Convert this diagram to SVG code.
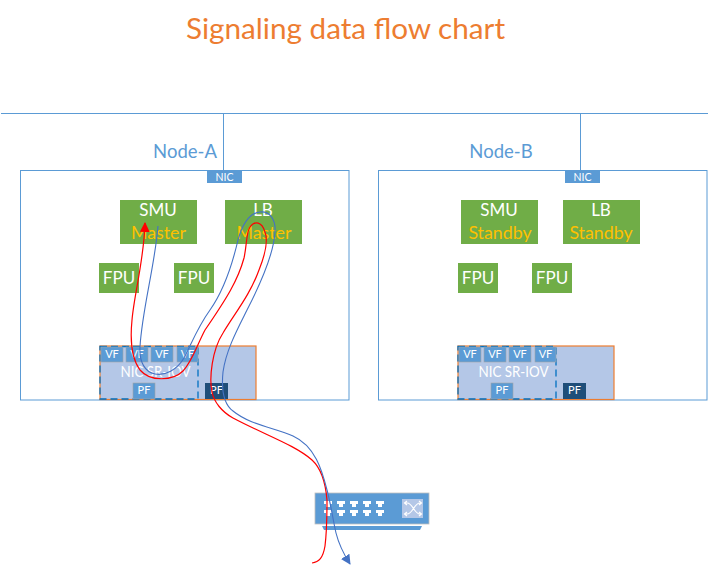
<svg xmlns="http://www.w3.org/2000/svg" width="713" height="565" viewBox="0 0 713 565">
<style>
text{font-family:"Lato","Open Sans","Liberation Sans",sans-serif;text-anchor:middle}
.bus{fill:none;stroke:#5B9BD5;stroke-width:1}
.node{fill:#fff;stroke:#5B9BD5;stroke-width:1}
.lab{fill:#5B9BD5;font-size:18.500px}
.nic{fill:#5B9BD5}
.nict{fill:#fff;font-size:10.500px}
.g{fill:#70AD47}
.w{fill:#fff;font-size:17px}
.y{fill:#FFC000;font-size:17.800px}
.sr{fill:#B4C7E7;stroke:#ED7D31;stroke-width:1.2}
.dash{fill:none;stroke:#0070C0;stroke-width:1.3;stroke-dasharray:7 4}
.vf{fill:#5B9BD5;stroke:#A5A5A5;stroke-width:.6}
.vft{fill:#fff;font-size:11px}
.srt{fill:#fff;font-size:15.500px}
.pfd{fill:#1F4E79}
.red{fill:none;stroke:#FF0000;stroke-width:1.2}
.blue{fill:none;stroke:#4472C4;stroke-width:1.1}
.port{fill:#fff}
</style>
<defs>
<marker id="ar" markerUnits="userSpaceOnUse" markerWidth="11" markerHeight="11" refX="9" refY="5" orient="auto"><path d="M0 0L10 5L0 10Z" fill="#FF0000"/></marker>
<marker id="ab" markerUnits="userSpaceOnUse" markerWidth="11" markerHeight="11" refX="9" refY="5" orient="auto"><path d="M0 0L10 5L0 10Z" fill="#4472C4"/></marker>
<g id="sriov">
<rect class="sr" x="100" y="346" width="156" height="53.500"/>
<rect class="dash" x="100" y="346.500" width="98" height="52.500"/>
<rect class="vf" x="101" y="347" width="22" height="15"/><text class="vft" x="112" y="358">VF</text>
<rect class="vf" x="126" y="347" width="22" height="15"/><text class="vft" x="137" y="358">VF</text>
<rect class="vf" x="151" y="347" width="22" height="15"/><text class="vft" x="162" y="358">VF</text>
<rect class="vf" x="177" y="347" width="21" height="15"/><text class="vft" x="187.500" y="358">VF</text>
<text class="srt" x="155.500" y="377" textLength="70" lengthAdjust="spacingAndGlyphs">NIC SR-IOV</text>
<rect class="vf" x="133" y="383" width="22" height="16"/><text class="vft" x="144" y="394">PF</text>
<rect class="pfd" x="205" y="383" width="23" height="16"/><text class="vft" x="216.500" y="394">PF</text>
</g>
</defs>
<text id="title" x="345.500" y="39" fill="#ED7D31" font-size="29.700">Signaling data flow chart</text>
<g id="connectors-bus">
<path class="bus" d="M1 113.500H708M223.500 113V170M580.500 113V170"/>
</g>
<g id="node-a">
<rect class="node" x="20.500" y="170.500" width="328.500" height="229.500"/>
<text class="lab" x="185" y="158">Node-A</text>
</g>
<g id="node-b">
<rect class="node" x="378.500" y="170.500" width="328.500" height="229.500"/>
<text class="lab" x="501" y="158">Node-B</text>
</g>
<g id="nic-a"><rect class="nic" x="207" y="171" width="35" height="12"/><text class="nict" x="224.500" y="180.500">NIC</text></g>
<g id="nic-b"><rect class="nic" x="565" y="171" width="35" height="12"/><text class="nict" x="582.500" y="180.500">NIC</text></g>
<g id="smu-a"><rect class="g" x="120" y="200" width="77" height="44"/><text class="w" x="158" y="216">SMU</text><text class="y" x="158.500" y="239">Master</text></g>
<g id="lb-a"><rect class="g" x="225" y="200" width="77" height="44"/><text class="w" x="263" y="216">LB</text><text class="y" x="264" y="239">Master</text></g>
<g id="fpu-a1"><rect class="g" x="99" y="263" width="40" height="30"/><text class="w" x="119" y="284">FPU</text></g>
<g id="fpu-a2"><rect class="g" x="174" y="263" width="40" height="30"/><text class="w" x="194" y="284">FPU</text></g>
<g id="smu-b"><rect class="g" x="461" y="200" width="77" height="44"/><text class="w" x="499" y="216">SMU</text><text class="y" x="500" y="239">Standby</text></g>
<g id="lb-b"><rect class="g" x="563" y="200" width="77" height="44"/><text class="w" x="601" y="216">LB</text><text class="y" x="601" y="239">Standby</text></g>
<g id="fpu-b1"><rect class="g" x="458" y="263" width="40" height="30"/><text class="w" x="478" y="284">FPU</text></g>
<g id="fpu-b2"><rect class="g" x="532" y="263" width="40" height="30"/><text class="w" x="552" y="284">FPU</text></g>
<g id="nic-sriov-a"><use href="#sriov"/></g>
<g id="nic-sriov-b"><use href="#sriov" x="358"/></g>
<g id="switch">
<rect x="315" y="493" width="114" height="31" fill="#5B9BD5" stroke="#BFBFBF" stroke-width=".8"/>
<path d="M322 526H422L420 530H324Z" fill="#5B9BD5"/>
<path class="port" d="M324 501h8v3h-2v3h-4v-3h-2zM337 501h8v3h-2v3h-4v-3h-2zM350 501h8v3h-2v3h-4v-3h-2zM363 501h8v3h-2v3h-4v-3h-2zM376 501h8v3h-2v3h-4v-3h-2zM324 510h8v3h-2v3h-4v-3h-2zM337 510h8v3h-2v3h-4v-3h-2zM350 510h8v3h-2v3h-4v-3h-2zM363 510h8v3h-2v3h-4v-3h-2zM376 510h8v3h-2v3h-4v-3h-2z"/>
<rect x="402" y="499" width="21" height="19" fill="#B4C7E7"/>
<path d="M405 503h2c6 0 7 11 13 11h1M405 514h2c6 0 7-11 13-11h1M419 501l2.500 2-2.500 2M419 512l2.500 2-2.500 2M407 501l-2.500 2 2.500 2M407 512l-2.500 2 2.500 2" fill="none" stroke="#fff" stroke-width="1.200"/>
</g>
<g id="connectors">
<path class="red" marker-end="url(#ar)" d="M312 563C319 562 323 558 325 546C327 530 327 515 327 500C326 488 323 470 312 460C295 445 265 435 233 418C222 412 214 402 212 392C209 378 212 350 223 333C235 313 250 295 259 270C265 255 268 240 265 232C262 222 255 220 250 227C246 233 247 245 244 258C238 280 227 298 205 330C197 345 192 362 183 371C173 381 150 382 140 370C131 358 130 340 132 320C134 295 144 260 145 223"/>
<path class="blue" marker-end="url(#ab)" d="M158 226C155 265 142 310 140 347C139 362 145 372 155 374C165 376 177 370 184 358C191 345 197 328 210 310C222 293 231 270 238 240C243 222 250 213 260 212C270 211 276 220 275 232C274 250 265 275 247 310C238 328 226 350 223 372C221 392 225 405 233 411C250 425 275 428 293 436C315 446 322 470 327 490C331 505 333 520 336 533C339 545 343 553 350 564"/>
</g>
</svg>
